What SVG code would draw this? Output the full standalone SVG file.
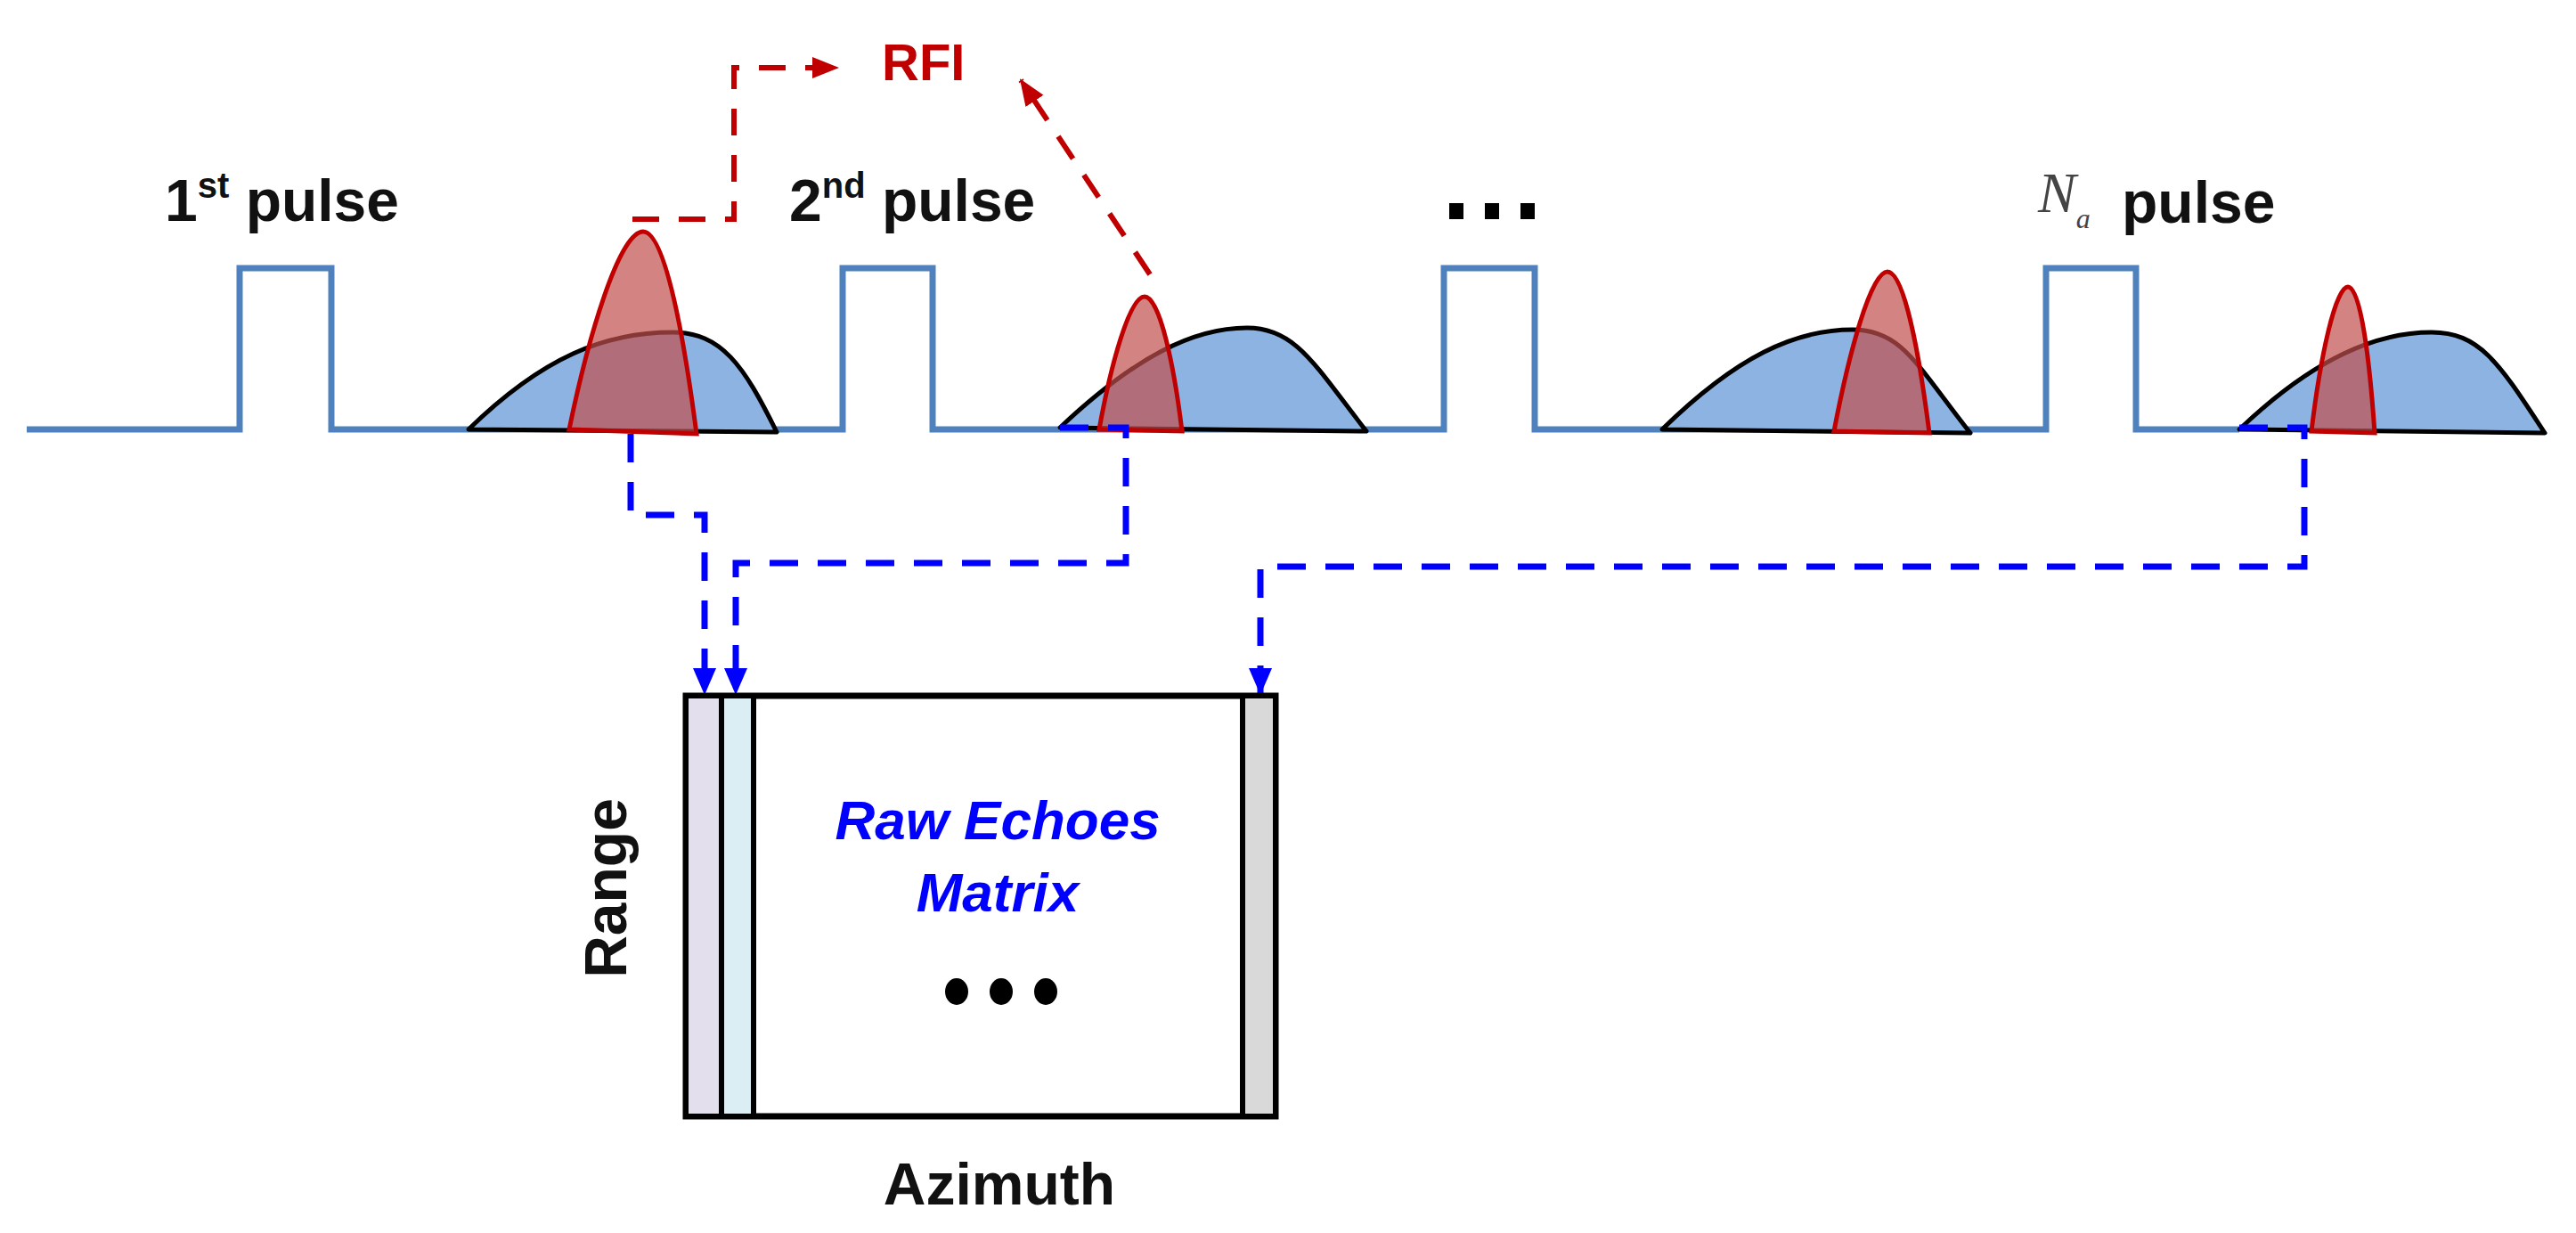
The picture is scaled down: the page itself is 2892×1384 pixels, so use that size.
<svg xmlns="http://www.w3.org/2000/svg" width="2892" height="1384" viewBox="0 0 2892 1384">
<defs>
<style>
.lbl{font-family:"Liberation Sans",Arial,sans-serif;font-weight:bold;fill:#111}
.echo{fill:#8db3e2;stroke:#000;stroke-width:5;stroke-linejoin:round}
.rfi{fill:#c0504d;fill-opacity:0.7;stroke:#c00000;stroke-width:5}
.bd{fill:none;stroke:#0000ff;stroke-width:7;stroke-dasharray:32 22}
.rd{fill:none;stroke:#c00000;stroke-width:6;stroke-dasharray:30 22}
</style>
<marker id="ab" markerUnits="userSpaceOnUse" markerWidth="30" markerHeight="36" refX="28" refY="15" orient="auto" viewBox="0 0 30 30"><path d="M0,2 L30,15 L0,28 Z" fill="#0000ff"/></marker>
<marker id="ar" markerUnits="userSpaceOnUse" markerWidth="30" markerHeight="30" refX="28" refY="15" orient="auto" viewBox="0 0 30 30"><path d="M0,3 L30,15 L0,27 Z" fill="#c00000"/></marker>
</defs>
<rect width="2892" height="1384" fill="#fff"/>
<g id="signal">
<polyline points="30,482 269,482 269,301 372,301 372,482 946,482 946,301 1047,301 1047,482 1621,482 1621,301 1723,301 1723,482 2297,482 2297,301 2398,301 2398,482 2514,482" fill="none" stroke="#4f81bd" stroke-width="7"/>
</g>
<g id="echoes">
<path class="echo" d="M526,482 C610,400 680,373 755,373 C810,373 835,410 872,485 Z"/>
<path class="echo" d="M1190,480 C1275,400 1340,368 1400,368 C1455,368 1476,410 1534,484 Z"/>
<path class="echo" d="M1866,482 C1950,400 2015,370 2080,370 C2135,370 2152,410 2212,486 Z"/>
<path class="echo" d="M2514,482 C2600,400 2670,373 2730,373 C2785,373 2807,410 2857,486 Z"/>
</g>
<g id="rfi-pulses">
<path class="rfi" d="M639,482 C660,380 695,260 722,260 C747,260 768,380 782,487 Z"/>
<path class="rfi" d="M1234,482 C1247,410 1268,333 1285,333 C1302,333 1318,410 1327,484 Z"/>
<path class="rfi" d="M2059,484 C2075,400 2100,305 2119,305 C2138,305 2155,400 2166,486 Z"/>
<path class="rfi" d="M2595,484 C2605,400 2622,322 2636,322 C2650,322 2660,400 2666,486 Z"/>
</g>
<g id="labels">
<text class="lbl" x="185" y="248" font-size="66">1<tspan font-size="40" dy="-26">st</tspan><tspan dy="26"> pulse</tspan></text>
<text class="lbl" x="886" y="248" font-size="66">2<tspan font-size="40" dy="-26">nd</tspan><tspan dy="26"> pulse</tspan></text>
<g fill="#000"><rect x="1627" y="228" width="16" height="18"/><rect x="1667" y="228" width="16" height="18"/><rect x="1707" y="228" width="16" height="18"/></g>
<text x="2288" y="238" font-family="Liberation Serif,serif" font-style="italic" font-size="64" fill="#444">N<tspan font-size="32" dy="18">a</tspan></text>
<text class="lbl" x="2382" y="250" font-size="66">pulse</text>
<text x="990" y="90" font-family="Liberation Sans,Arial,sans-serif" font-weight="bold" font-size="58" fill="#c00000">RFI</text>
</g>
<g id="connectors">
<path class="rd" d="M710,246 H824 V76 H940" marker-end="url(#ar)"/>
<path class="rd" d="M1291,308 L1146,90" marker-end="url(#ar)"/>
<path class="bd" d="M708,487 V578 H791 V778" marker-end="url(#ab)"/>
<path class="bd" d="M1190,480 H1264 V632 H826 V778" marker-end="url(#ab)"/>
<path class="bd" d="M2514,480 H2587 V636 H1415 V778" marker-end="url(#ab)"/>
</g>
<g id="matrix">
<rect x="770" y="781" width="662" height="472" fill="#fff" stroke="#000" stroke-width="7"/>
<rect x="773" y="784" width="36" height="466" fill="#e4dfec"/>
<rect x="812" y="784" width="33" height="466" fill="#daeef3"/>
<rect x="1396" y="784" width="33" height="466" fill="#d9d9d9"/>
<line x1="810" y1="781" x2="810" y2="1253" stroke="#000" stroke-width="6"/>
<line x1="846" y1="781" x2="846" y2="1253" stroke="#000" stroke-width="6"/>
<line x1="1395" y1="781" x2="1395" y2="1253" stroke="#000" stroke-width="6"/>
<text x="1120" y="942" text-anchor="middle" font-family="Liberation Sans,Arial,sans-serif" font-weight="bold" font-style="italic" font-size="62" fill="#0000ff">Raw Echoes</text>
<text x="1120" y="1023" text-anchor="middle" font-family="Liberation Sans,Arial,sans-serif" font-weight="bold" font-style="italic" font-size="62" fill="#0000ff">Matrix</text>
<ellipse cx="1074" cy="1113" rx="13" ry="15"/>
<ellipse cx="1124" cy="1113" rx="13" ry="15"/>
<ellipse cx="1174" cy="1113" rx="13" ry="15"/>
<text class="lbl" x="0" y="0" font-size="66" text-anchor="middle" transform="translate(703,997) rotate(-90)">Range</text>
<text class="lbl" x="1122" y="1352" font-size="66" text-anchor="middle">Azimuth</text>
</g>
</svg>
